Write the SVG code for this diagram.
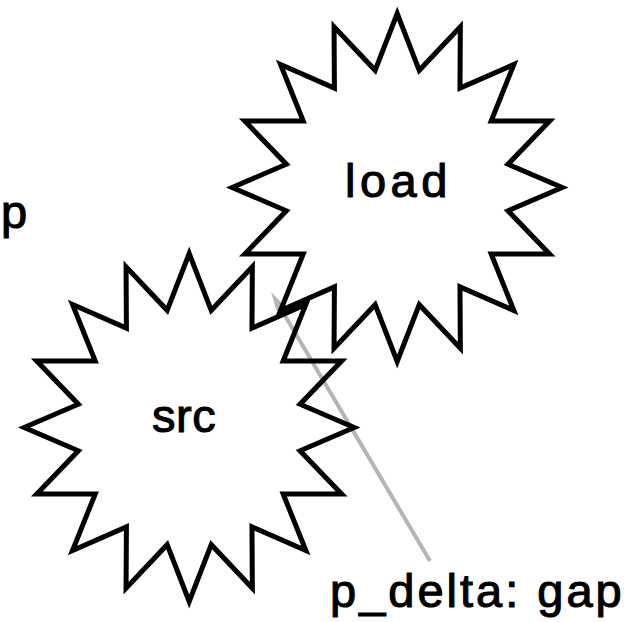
<svg xmlns="http://www.w3.org/2000/svg" xmlns:xlink="http://www.w3.org/1999/xlink" width="633" height="622" viewBox="0 0 633 622">
  <style>
    .star { fill: none; stroke: #000; stroke-width: 5; stroke-linejoin: miter; stroke-miterlimit: 10; }
    .lbl { font-family: "Liberation Sans", Arial, sans-serif; font-size: 47px; fill: #000; stroke: #000; stroke-width: 1.1; }
    .conn { stroke: #b5b5b5; stroke-width: 4; fill: none; }
  </style>
  <defs>
    <polygon id="star16" points="0,-174 22.05,-117.2 63.14,-160.75 62.78,-99.36 116.67,-123.04 93.96,-66.39 152.44,-66.59 110.83,-23.31 165,0 110.83,23.31 152.44,66.59 93.96,66.39 116.67,123.04 62.78,99.36 63.14,160.75 22.05,117.2 0,174 -22.05,117.2 -63.14,160.75 -62.78,99.36 -116.67,123.04 -93.96,66.39 -152.44,66.59 -110.83,23.31 -165,0 -110.83,-23.31 -152.44,-66.59 -93.96,-66.39 -116.67,-123.04 -62.78,-99.36 -63.14,-160.75 -22.05,-117.2"/>
    <marker id="arrow" viewBox="0 0 20 12" refX="0" refY="6" markerWidth="20" markerHeight="12" markerUnits="userSpaceOnUse" orient="auto">
      <path d="M0,1 L20,6 L0,11 z" fill="#b5b5b5"/>
    </marker>
  </defs>
  <rect width="633" height="622" fill="#fff"/>
  <g id="connectors">
    <line class="conn" x1="430" y1="561" x2="281.2" y2="309.2" marker-end="url(#arrow)"/>
  </g>
  <g id="load">
    <use href="#star16" class="star" x="397.2" y="187.5"/>
    <text class="lbl" x="345" y="197" letter-spacing="4.5">load</text>
  </g>
  <g id="src">
    <use href="#star16" class="star" x="189.2" y="427.5"/>
    <text class="lbl" x="152" y="432" letter-spacing="0.5">src</text>
  </g>
  <g id="p">
    <text class="lbl" x="1" y="228">p</text>
  </g>
  <g id="p_delta">
    <text class="lbl" x="330" y="607" letter-spacing="3">p_delta: gap</text>
  </g>
</svg>
